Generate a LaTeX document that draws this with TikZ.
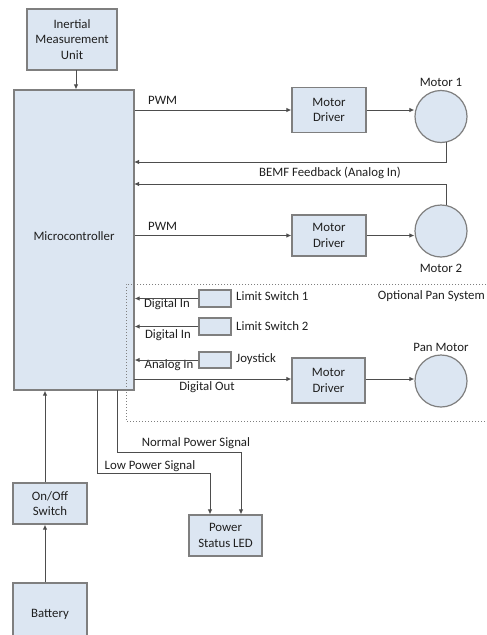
\documentclass[tikz,border=0pt]{standalone}
\usepackage{fontspec}
\setmainfont{Carlito}
\usetikzlibrary{arrows.meta,calc}
\definecolor{boxfill}{HTML}{DCE6F2}
\definecolor{boxdraw}{HTML}{7F7F7F}
\definecolor{linec}{HTML}{4D4D4D}
\definecolor{txt}{HTML}{1F1F1F}
\tikzset{
  blk/.style={draw=boxdraw,fill=boxfill,line width=1.2pt,inner sep=0pt,align=center,text=txt,font=\fontsize{12.8}{15.5}\selectfont},
  mot/.style={draw=boxdraw,fill=boxfill,line width=1.2pt,circle,minimum size=52pt,inner sep=0pt},
  lbl/.style={text=txt,font=\fontsize{12.8}{14}\selectfont,inner sep=1pt},
  conn/.style={draw=linec,line width=1pt},
  arr/.style={conn,-{Latex[length=5pt,width=4.5pt]}},
  pan/.style={draw=boxdraw,line width=1pt,dotted}
}
\begin{document}
\begin{tikzpicture}[x=1pt,y=-1pt]
\useasboundingbox (0,0) rectangle (487,635);
\clip (0,0) rectangle (487,635);
\fill[white] (0,0) rectangle (487,635);
% blocks
\node[blk,minimum width=90pt,minimum height=61pt] (imu) at (72,39.5) {Inertial\\Measurement\\Unit};
\node[blk,minimum width=120pt,minimum height=300pt] (mc) at (74,240) {\raisebox{7pt}{Microcontroller}};
\node[blk,minimum width=74pt,minimum height=45pt] (md1) at (329,110) {Motor\\Driver};
\node[blk,minimum width=74pt,minimum height=41pt] (md2) at (329,235.5) {Motor\\Driver};
\node[blk,minimum width=73pt,minimum height=45pt] (md3) at (328.5,380.5) {Motor\\Driver};
\node[mot] (m1) at (441,116.5) {};
\node[mot] (m2) at (441,231) {};
\node[mot] (pm) at (441,381) {};
\node[blk,minimum width=32pt,minimum height=17pt] (ls1) at (215,298.5) {};
\node[blk,minimum width=32pt,minimum height=17pt] (ls2) at (215,326.5) {};
\node[blk,minimum width=32pt,minimum height=16pt] (js) at (215,360) {};
\node[blk,minimum width=74pt,minimum height=41pt] (onoff) at (50,503.5) {On/Off\\Switch};
\node[blk,minimum width=74pt,minimum height=62pt] (bat) at (50,614) {\raisebox{1pt}{Battery}};
\node[blk,minimum width=73pt,minimum height=41pt] (led) at (225.5,535.5) {Power\\Status LED};
% dotted optional region (drawn over the microcontroller edge)
\draw[pan] (495,284) -- (126,284) -- (126,421) -- (495,421);
\node[lbl,anchor=east] (optl) at (486,296) {Optional Pan System};
% labels
\node[lbl] (m1l) at (441,82) {Motor 1};
\node[lbl] (m2l) at (441,268) {Motor 2};
\node[lbl] (pml) at (441,347) {Pan Motor};
\node[lbl,anchor=west] (pwm1) at (147,100) {PWM};
\node[lbl,anchor=west] (pwm2) at (147,226) {PWM};
\node[lbl] (bemf) at (330,173) {BEMF Feedback (Analog In)};
\node[lbl,anchor=west] (ls1l) at (235,296) {Limit Switch 1};
\node[lbl,anchor=west] (ls2l) at (235,326) {Limit Switch 2};
\node[lbl,anchor=west] (jsl) at (235,359) {Joystick};
\node[lbl] (di1) at (167,304) {Digital In};
\node[lbl] (di2) at (168,335) {Digital In};
\node[lbl] (ai) at (169,365) {Analog In};
\node[lbl] (dout) at (207,387) {Digital Out};
\node[lbl] (nps) at (196,443) {Normal Power Signal};
\node[lbl] (lps) at (150,466) {Low Power Signal};
% coordinates
\coordinate (fb1) at (134,162);
\coordinate (fb2) at (134,184);
\coordinate (lpS) at (97,390);
\coordinate (lpT) at (210,473);
\coordinate (npS) at (117,390);
\coordinate (npT) at (241,452);
\coordinate (dO) at (134,379);
\coordinate (imuA) at (76,70);
% connectors
\draw[arr] (imuA) -- (imuA |- mc.north);
\draw[arr] (mc.east |- md1.west) -- (md1.west);
\draw[arr] (md1.east) -- (md1.east -| m1.west);
\draw[arr] (m1.-77) |- (fb1);
\draw[arr] (m2.77) |- (fb2);
\draw[arr] (mc.east |- md2.west) -- (md2.west);
\draw[arr] (md2.east) -- (md2.east -| m2.west);
\draw[arr] (ls1.west) -- (ls1.west -| mc.east);
\draw[arr] (ls2.west) -- (ls2.west -| mc.east);
\draw[arr] (js.west) -- (js.west -| mc.east);
\draw[arr] (dO) -- (dO -| md3.west);
\draw[arr] (md3.east |- dO) -- (dO -| pm.west);
\draw[arr] ([xshift=-5pt]bat.north) -- ([xshift=-5pt]onoff.south);
\draw[arr] ([xshift=-5pt]onoff.north) -- ([xshift=-5pt]onoff.north |- mc.south);
\draw[arr] (lpS) |- (lpT) -- (lpT |- led.north);
\draw[arr] (npS) |- (npT) -- (npT |- led.north);
\end{tikzpicture}
\end{document}
